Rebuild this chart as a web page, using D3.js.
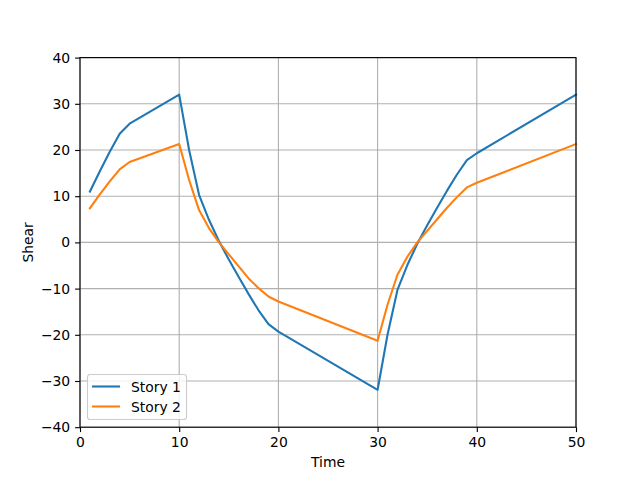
<!DOCTYPE html>
<html><head><meta charset="utf-8">
<script src="https://cdn.jsdelivr.net/npm/d3@7"></script>
<style>body{margin:0;background:#fff}svg{display:block;font-family:"DejaVu Sans",sans-serif}</style>
</head><body>
<svg id="c" width="640" height="480"></svg>
<script>
const time   = [1,2,3,4,5,10,11,12,13,14,15,16,17,18,19,20,30,31,32,33,34,35,36,37,38,39,40,50];
const story1 = [11.0,15.4,19.6,23.5,25.7,32.0,20.0,10.3,4.9,0.3,-3.7,-7.5,-11.2,-14.7,-17.7,-19.3,-31.9,-20.0,-10.3,-4.9,-0.3,3.7,7.5,11.2,14.7,17.8,19.3,32.0];
const story2 = [7.4,10.4,13.2,15.8,17.4,21.3,13.5,7.0,3.1,0.0,-2.6,-5.2,-7.8,-9.9,-11.7,-12.8,-21.3,-13.5,-7.0,-3.1,0.0,2.5,5.0,7.5,9.8,11.9,12.9,21.3];
const seriesNames = ["Story 1","Story 2"];
const colors = ["#1f77b4","#ff7f0e"];
const xTicks = [0,10,20,30,40,50];
const yTicks = [-40,-30,-20,-10,0,10,20,30,40];

const svg = d3.select("#c");
const L=80,R=576,T=57.6,B=427.2;
const x = d3.scaleLinear().domain([0,50]).range([L,R]);
const y = d3.scaleLinear().domain([-40,40]).range([B,T]);
const fs = "13.9px";
const lw = 0.8*100/72;

// grid
const g = svg.append("g");
g.selectAll(".gx").data(xTicks).join("line").attr("x1",d=>x(d)).attr("x2",d=>x(d)).attr("y1",T).attr("y2",B).attr("stroke","#b0b0b0").attr("stroke-width",lw);
g.selectAll(".gy").data(yTicks).join("line").attr("y1",d=>y(d)).attr("y2",d=>y(d)).attr("x1",L).attr("x2",R).attr("stroke","#b0b0b0").attr("stroke-width",lw);

// lines
const data = [story1, story2];
const line = d3.line().x((d,i)=>x(time[i])).y(d=>y(d));
data.forEach((s,k)=>{
  svg.append("path").datum(s).attr("d",line).attr("fill","none").attr("stroke",colors[k]).attr("stroke-width",1.5*100/72).attr("stroke-linejoin","round").attr("stroke-linecap","square");
});

// axes
const xa = svg.append("g").attr("transform",`translate(0,${B})`).call(d3.axisBottom(x).tickValues(xTicks).tickSize(4.9).tickPadding(4.9).tickFormat(d3.format("d")));
const ya = svg.append("g").attr("transform",`translate(${L},0)`).call(d3.axisLeft(y).tickValues(yTicks).tickSize(4.9).tickPadding(4.9).tickFormat(d3.format("d")));
[xa,ya].forEach(a=>{
  a.select(".domain").remove();
  a.selectAll("line").attr("stroke","#000").attr("stroke-width",lw);
  a.selectAll("text").attr("font-size",fs).attr("font-family","DejaVu Sans").attr("fill","#000");
});
ya.selectAll("text").text(d=>d<0?"\u2212"+Math.abs(d):d);
// spines
svg.append("rect").attr("x",L).attr("y",T).attr("width",R-L).attr("height",B-T).attr("fill","none").attr("stroke","#000").attr("stroke-width",lw);

svg.append("text").attr("x",(L+R)/2).attr("y",467).attr("text-anchor","middle").attr("font-size",fs).text("Time");
svg.append("text").attr("transform",`translate(33,${(T+B)/2}) rotate(-90)`).attr("text-anchor","middle").attr("font-size",fs).text("Shear");

// legend
const lg = svg.append("g");
lg.append("rect").attr("x",87.5).attr("y",374.5).attr("width",99).attr("height",45).attr("rx",2.8).attr("fill","#fff").attr("fill-opacity",0.8).attr("stroke","#cccccc").attr("stroke-width",lw);
seriesNames.forEach((n,k)=>{
  const yy = 386.5 + k*20;
  lg.append("line").attr("x1",92).attr("x2",120).attr("y1",yy).attr("y2",yy).attr("stroke",colors[k]).attr("stroke-width",1.5*100/72);
  lg.append("text").attr("x",131).attr("y",yy+5).attr("font-size",fs).text(n);
});
</script>
</body></html>
